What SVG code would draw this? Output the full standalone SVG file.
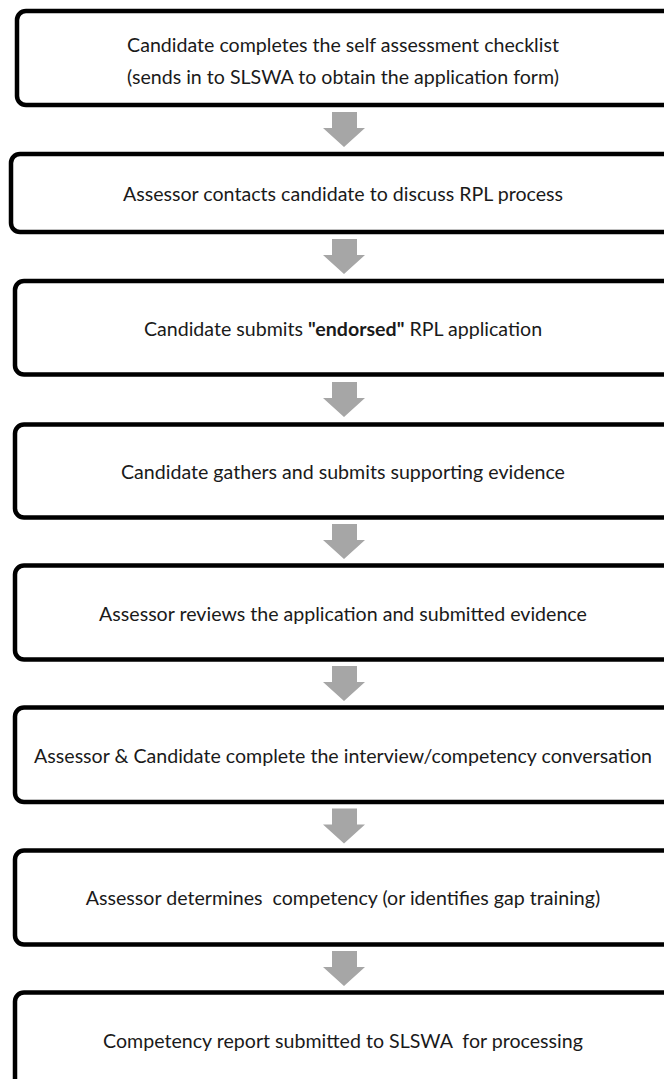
<svg xmlns="http://www.w3.org/2000/svg" width="664" height="1079" viewBox="0 0 664 1079">
<style>
.box{fill:#fff;stroke:#000;stroke-width:4.5}
.t{font-family:Lato,"Liberation Sans",sans-serif;font-size:19.6px;fill:#1a1a1a;text-anchor:middle;dominant-baseline:central}
.b{font-weight:bold}
.arr{fill:#a6a6a6}
</style>
<defs>
<path id="a" d="M332,0 H357 V16 H365 L344,35 L323,16 H332 Z"/>
</defs>
<rect width="664" height="1079" fill="#fff"/>
<g id="connectors">
<use href="#a" class="arr" y="112"/>
<use href="#a" class="arr" y="239"/>
<use href="#a" class="arr" y="382"/>
<use href="#a" class="arr" y="524"/>
<use href="#a" class="arr" y="666"/>
<use href="#a" class="arr" y="808.5"/>
<use href="#a" class="arr" y="951"/>
</g>
<g id="n1"><rect class="box" x="17" y="11" width="700" height="94" rx="9"/>
<text class="t" x="343" y="44">Candidate completes the self assessment checklist</text>
<text class="t" x="343" y="76">(sends in to SLSWA to obtain the application form)</text></g>
<g id="n2"><rect class="box" x="11" y="154" width="700" height="78" rx="9"/>
<text class="t" x="343" y="193">Assessor contacts candidate to discuss RPL process</text></g>
<g id="n3"><rect class="box" x="15" y="281" width="700" height="93.5" rx="9"/>
<text class="t" x="343" y="328">Candidate submits <tspan class="b">"endorsed"</tspan> RPL application</text></g>
<g id="n4"><rect class="box" x="15" y="424.5" width="700" height="93" rx="9"/>
<text class="t" x="343" y="471">Candidate gathers and submits supporting evidence</text></g>
<g id="n5"><rect class="box" x="15" y="565.5" width="700" height="94" rx="9"/>
<text class="t" x="343" y="613">Assessor reviews the application and submitted evidence</text></g>
<g id="n6"><rect class="box" x="15" y="707.5" width="700" height="94.5" rx="9"/>
<text class="t" x="343" y="755">Assessor &amp; Candidate complete the interview/competency conversation</text></g>
<g id="n7"><rect class="box" x="15" y="850.5" width="700" height="94" rx="9"/>
<text class="t" x="343" y="897" xml:space="preserve">Assessor determines  competency (or identifies gap training)</text></g>
<g id="n8"><rect class="box" x="15" y="992.5" width="700" height="120" rx="9"/>
<text class="t" x="343" y="1040" xml:space="preserve">Competency report submitted to SLSWA  for processing</text></g>
</svg>
